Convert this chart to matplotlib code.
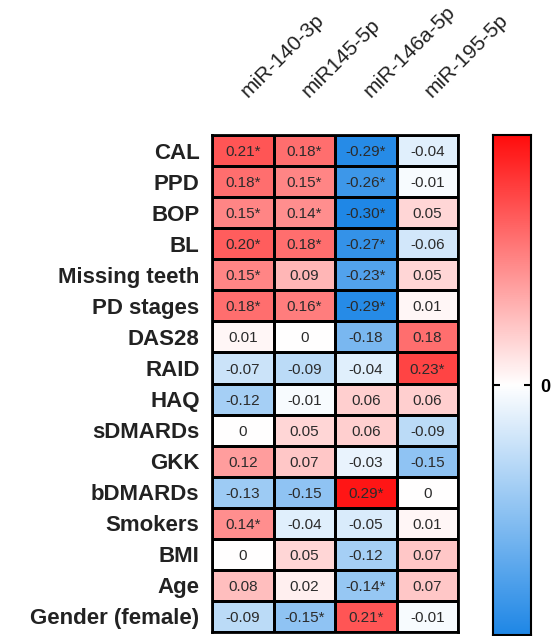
import numpy as np
import matplotlib
matplotlib.use("Agg")
import matplotlib.pyplot as plt
from matplotlib.colors import LinearSegmentedColormap, Normalize

plt.rcParams["font.family"] = ["Liberation Sans", "DejaVu Sans"]

mirnas = ["miR-140-3p", "miR145-5p", "miR-146a-5p", "miR-195-5p"]
variables = ["CAL", "PPD", "BOP", "BL", "Missing teeth", "PD stages", "DAS28",
             "RAID", "HAQ", "sDMARDs", "GKK", "bDMARDs", "Smokers", "BMI",
             "Age", "Gender (female)"]

# correlation coefficients, one row per clinical variable
r_values = np.array([
    [0.21, 0.18, -0.29, -0.04],
    [0.18, 0.15, -0.26, -0.01],
    [0.15, 0.14, -0.30, 0.05],
    [0.20, 0.18, -0.27, -0.06],
    [0.15, 0.09, -0.23, 0.05],
    [0.18, 0.16, -0.29, 0.01],
    [0.01, 0.00, -0.18, 0.18],
    [-0.07, -0.09, -0.04, 0.23],
    [-0.12, -0.01, 0.06, 0.06],
    [0.00, 0.05, 0.06, -0.09],
    [0.12, 0.07, -0.03, -0.15],
    [-0.13, -0.15, 0.29, 0.00],
    [0.14, -0.04, -0.05, 0.01],
    [0.00, 0.05, -0.12, 0.07],
    [0.08, 0.02, -0.14, 0.07],
    [-0.09, -0.15, 0.21, -0.01],
])

# significant correlations (p < 0.05)
significant = np.array([
    [1, 1, 1, 0],
    [1, 1, 1, 0],
    [1, 1, 1, 0],
    [1, 1, 1, 0],
    [1, 0, 1, 0],
    [1, 1, 1, 0],
    [0, 0, 0, 0],
    [0, 0, 0, 1],
    [0, 0, 0, 0],
    [0, 0, 0, 0],
    [0, 0, 0, 0],
    [0, 0, 1, 0],
    [1, 0, 0, 0],
    [0, 0, 0, 0],
    [0, 0, 1, 0],
    [0, 1, 1, 0],
], dtype=bool)

vmin, vmax = -0.30, 0.30
cmap = LinearSegmentedColormap.from_list(
    "bwr_gp", ["#1f87e6", "#ffffff", "#ff0d0d"])
norm = Normalize(vmin=vmin, vmax=vmax)


def fmt(v):
    if v == 0:
        return "0"
    return f"{v:.2f}"


W, H = 554, 636
fig = plt.figure(figsize=(W / 100, H / 100), dpi=100)

ax = fig.add_axes([212 / W, 1 - 632 / H, 246 / W, 497 / H])
nrows, ncols = r_values.shape
ax.pcolormesh(np.arange(ncols + 1), np.arange(nrows + 1), r_values,
              cmap=cmap, norm=norm, edgecolor="black", linewidth=2)
ax.set_xlim(0, ncols)
ax.set_ylim(nrows, 0)
for s in ax.spines.values():
    s.set_linewidth(2)

for i in range(nrows):
    for j in range(ncols):
        txt = fmt(r_values[i, j]) + ("*" if significant[i, j] else "")
        ax.text(j + 0.5, i + 0.55, txt, ha="center", va="center",
                fontsize=11, color="#2b2b2b")

ax.set_yticks(np.arange(nrows) + 0.5)
ax.set_yticklabels(variables, fontsize=16, fontweight="bold", color="#222222")
ax.tick_params(axis="y", length=0, pad=9)
ax.set_xticks([])

for j, name in enumerate(mirnas):
    ax.text(j + 0.62, -1.1, name, rotation=45, rotation_mode="anchor",
            ha="left", va="bottom", fontsize=15, color="#222222")

# colour scale
cax = fig.add_axes([493 / W, 1 - 635 / H, 38 / W, 500 / H])
grad = np.linspace(vmin, vmax, 256).reshape(-1, 1)
cax.imshow(grad, aspect="auto", cmap=cmap, norm=norm, origin="lower",
           extent=[0, 1, vmin, vmax])
cax.set_xticks([])
cax.set_yticks([0])
cax.set_yticklabels(["0"], fontsize=13, fontweight="bold")
cax.tick_params(axis="y", left=True, right=True, labelleft=False,
                labelright=True, direction="in", length=5, width=1.5, pad=7)
for s in cax.spines.values():
    s.set_linewidth(1.5)

fig.savefig("out.png", dpi=100)
